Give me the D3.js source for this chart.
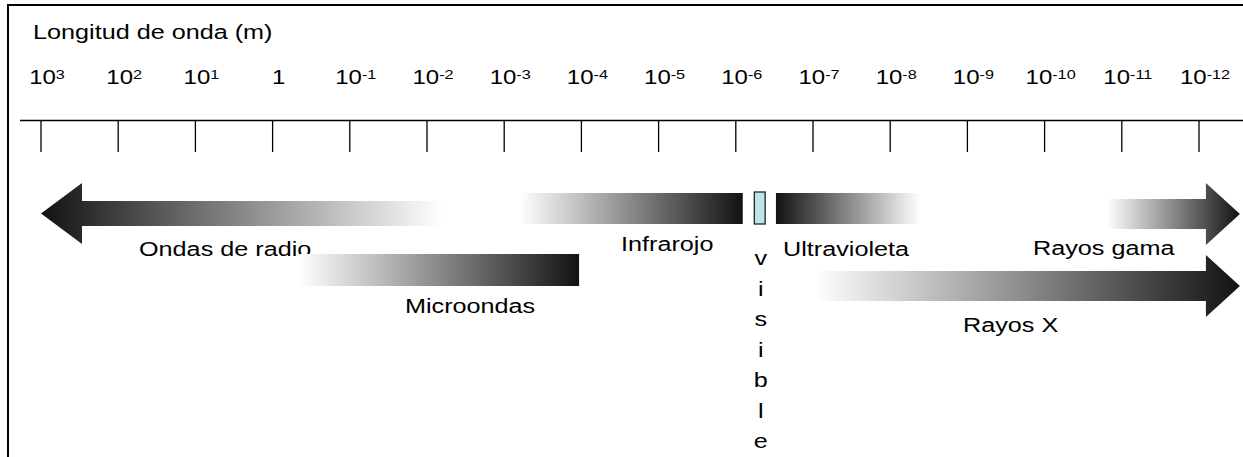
<!DOCTYPE html>
<html><head><meta charset="utf-8">
<script src="https://cdn.jsdelivr.net/npm/d3@7"></script>
<style>
html,body{margin:0;padding:0;background:#fff;}
svg{display:block;}
text{font-family:"Liberation Sans",Arial,Helvetica,sans-serif;fill:#000;}
</style>
</head><body>
<svg id="chart" width="1243" height="457"></svg>
<script>
// ---------------- data ----------------
const axisTitle = "Longitud de onda (m)";
// wavelength exponents (log10 of metres) shown on the scale
const exponents = [3, 2, 1, 0, -1, -2, -3, -4, -5, -6, -7, -8, -9, -10, -11, -12];
const tickBase  = ["10","10","10","1","10","10","10","10","10","10","10","10","10","10","10","10"];
const tickSup   = ["3","2","1","","-1","-2","-3","-4","-5","-6","-7","-8","-9","-10","-11","-12"];

// spectral bands: extent in log10(m), long-wave end first
const bandNames = ["Ondas de radio", "Microondas", "Infrarojo", "visible", "Ultravioleta", "Rayos X", "Rayos gama"];
const bandFrom  = [3.0, -0.35, -3.2, -6.24, -6.52, -7.03, -10.81];
const bandTo    = [-2.2, -3.97, -6.09, -6.38, -8.39, -12.53, -12.53];
const bandDense = ["from", "to", "to", "none", "from", "to", "to"];   // which end is dark
const bandOpen  = ["from", "none", "none", "none", "none", "to", "to"]; // which end continues (arrow)

// ---------------- layout ----------------
const W = 1243, H = 457, SX = 1.2;
const svg = d3.select("#chart");
const defs = svg.append("defs");

const x = d3.scaleLinear().domain([3, -12]).range([41, 1199]);

const lane = {
  "Ondas de radio": {y0: 201, y1: 226, h0: 183, h1: 244, head: 41, lx: 139, ly: 256, anchor: "start"},
  "Microondas":     {y0: 254, y1: 286, lx: 405, ly: 313, anchor: "start"},
  "Infrarojo":      {y0: 193, y1: 224, lx: 621, ly: 251, anchor: "start"},
  "visible":        {y0: 192, y1: 224},
  "Ultravioleta":   {y0: 193, y1: 224, lx: 783, ly: 256, anchor: "start"},
  "Rayos X":        {y0: 271, y1: 301, h0: 255, h1: 317, head: 34, lx: 963, ly: 332, anchor: "start"},
  "Rayos gama":     {y0: 199, y1: 229, h0: 183, h1: 245, head: 34, lx: 1033, ly: 255, anchor: "start"}
};

function stretched(sel, px, py) {
  return sel.attr("transform", `translate(${px},${py}) scale(${SX},1)`);
}

// frame
svg.append("line").attr("x1", 8).attr("x2", W).attr("y1", 5).attr("y2", 5)
  .attr("stroke", "#000").attr("stroke-width", 2);
svg.append("line").attr("x1", 8).attr("x2", 8).attr("y1", 4).attr("y2", H)
  .attr("stroke", "#000").attr("stroke-width", 2);

// title
stretched(svg.append("text").attr("font-size", 21).text(axisTitle), 33, 39);

// scale axis line & ticks
const axisY = 120.5;
svg.append("line").attr("x1", 20).attr("x2", W).attr("y1", axisY).attr("y2", axisY)
  .attr("stroke", "#000").attr("stroke-width", 1.4);
svg.selectAll("line.tick").data(exponents).join("line").attr("class", "tick")
  .attr("x1", d => x(d)).attr("x2", d => x(d))
  .attr("y1", axisY).attr("y2", 152)
  .attr("stroke", "#000").attr("stroke-width", 1.3);

// tick labels
exponents.forEach((e, i) => {
  const t = svg.append("text").attr("font-size", 20).attr("text-anchor", "middle");
  stretched(t, x(e) + 6, 84);
  t.append("tspan").text(tickBase[i]);
  if (tickSup[i]) t.append("tspan").attr("font-size", 13.5).attr("dy", -5.5).text(tickSup[i]);
});

// band labels (drawn before bands so bands overlap like the original)
bandNames.forEach(n => {
  const L = lane[n];
  if (L.lx === undefined) return;
  stretched(svg.append("text").attr("font-size", 21).attr("text-anchor", L.anchor).text(n), L.lx, L.ly);
});

// bands
bandNames.forEach((n, i) => {
  const L = lane[n];
  const xa = x(bandFrom[i]), xb = x(bandTo[i]);
  if (n === "visible") {
    svg.append("rect").attr("x", xa).attr("y", L.y0).attr("width", xb - xa).attr("height", L.y1 - L.y0)
      .attr("fill", "#bfe4e8").attr("stroke", "#222").attr("stroke-width", 1.3);
    const letters = n.split("");
    svg.selectAll("text.vis").data(letters).join("text").attr("class", "vis")
      .attr("font-size", 21).attr("text-anchor", "middle")
      .attr("transform", (d, k) => `translate(${(xa + xb) / 2 + 1},${265 + k * 30.5}) scale(${SX},1)`)
      .text(d => d);
    return;
  }
  const gid = "g" + i;
  const g = defs.append("linearGradient").attr("id", gid)
    .attr("gradientUnits", "userSpaceOnUse")
    .attr("x1", xa).attr("x2", xb).attr("y1", 0).attr("y2", 0);
  const dark = "#121212", light = "#ffffff";
  g.append("stop").attr("offset", 0).attr("stop-color", bandDense[i] === "from" ? dark : light);
  g.append("stop").attr("offset", 1).attr("stop-color", bandDense[i] === "from" ? light : dark);

  let pts;
  const cy = (L.h0 !== undefined) ? (L.h0 + L.h1) / 2 : 0;
  if (bandOpen[i] === "from") {
    const hb = xa + L.head;
    pts = [[xa, cy], [hb, L.h0], [hb, L.y0], [xb, L.y0], [xb, L.y1], [hb, L.y1], [hb, L.h1]];
  } else if (bandOpen[i] === "to") {
    const hb = xb - L.head;
    pts = [[xa, L.y0], [hb, L.y0], [hb, L.h0], [xb, cy], [hb, L.h1], [hb, L.y1], [xa, L.y1]];
  } else {
    pts = [[xa, L.y0], [xb, L.y0], [xb, L.y1], [xa, L.y1]];
  }
  svg.append("path").attr("d", d3.line()(pts) + "Z").attr("fill", `url(#${gid})`);
});
</script>
</body></html>
